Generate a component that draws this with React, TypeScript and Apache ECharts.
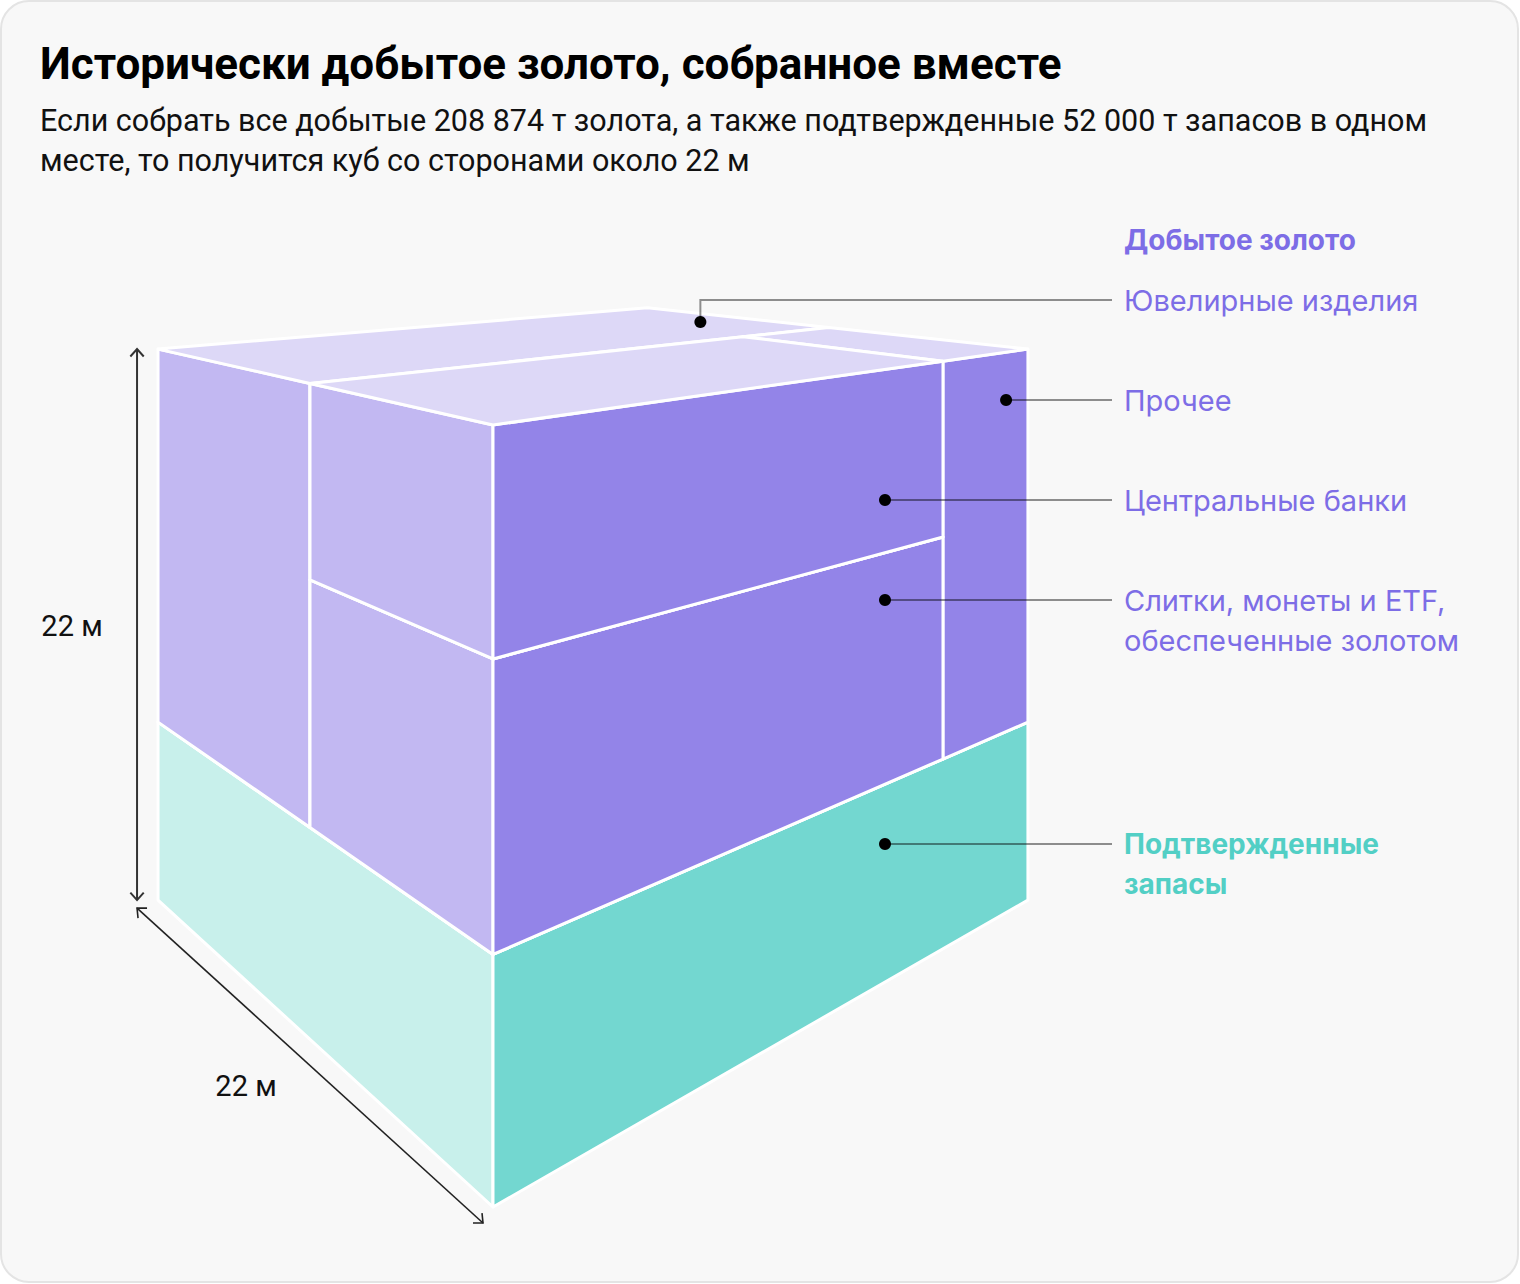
import React, { useEffect, useRef } from "react";
import * as echarts from "echarts";

// ---------- data ----------
const titleText = "Исторически добытое золото, собранное вместе";
const subtitleLines = [
  "Если собрать все добытые 208 874 т золота, а также подтвержденные 52 000 т запасов в одном",
  "месте, то получится куб со сторонами около 22 м",
];
const groupTitle = "Добытое золото";
// segments of mined gold (share of mined-gold volume as drawn in the cube, %)
const segmentNames = ["Ювелирные изделия", "Прочее", "Центральные банки", "Слитки, монеты и ETF,\nобеспеченные золотом"];
const segmentShares = [54.1, 9.7, 16.0, 20.2];
const reservesName = "Подтвержденные\nзапасы";
// share of the cube height: [reserves, mined gold], %
const stackHeights = [32.3, 67.7];
const sideLabel = "22 м";

// ---------- layout / projection ----------
const W = 1520;
const H = 1284;
const P = { fx: 493, topY: 425, botY: 1207, horizonY: 168, vlx: -641, vrx: 2304, k: 0.4192 };

const COLORS = {
  purple: { top: "#DDD8F7", left: "#C2B8F2", right: "#9384E8" },
  teal: { top: "#D8F4F0", left: "#C8F0EB", right: "#73D7D0" },
};
const palettes = [COLORS.teal, COLORS.purple];

function intersect(p1: number[], p2: number[], p3: number[], p4: number[]) {
  const d = (p1[0] - p2[0]) * (p3[1] - p4[1]) - (p1[1] - p2[1]) * (p3[0] - p4[0]);
  const c1 = p1[0] * p2[1] - p1[1] * p2[0];
  const c2 = p3[0] * p4[1] - p3[1] * p4[0];
  return [
    (c1 * (p3[0] - p4[0]) - (p1[0] - p2[0]) * c2) / d,
    (c1 * (p3[1] - p4[1]) - (p1[1] - p2[1]) * c2) / d,
  ];
}

function project(a: number, b: number, z: number) {
  const fy = P.botY - (P.botY - P.topY) * z;
  const sA = (P.k * a) / (1 + P.k * a);
  const sB = (P.k * b) / (1 + P.k * b);
  const pa = [P.fx + (P.vlx - P.fx) * sA, fy + (P.horizonY - fy) * sA];
  const pb = [P.fx + (P.vrx - P.fx) * sB, fy + (P.horizonY - fy) * sB];
  return intersect([P.vrx, P.horizonY], pa, [P.vlx, P.horizonY], pb);
}

function buildBlocks() {
  const zt = stackHeights[0] / 100;
  const [jew, other, cb, bars] = segmentShares;
  const aSplit = 1 - jew / (jew + other + cb + bars);
  const bSplit = (cb + bars) / (cb + bars + other);
  const zSplit = zt + (1 - zt) * (bars / (cb + bars));
  return {
    blocks: [
      [0, 1, 0, 1, 0, zt, 0], // reserves
      [aSplit, 1, 0, 1, zt, 1, 1], // jewelry
      [0, aSplit, bSplit, 1, zt, 1, 1], // other
      [0, aSplit, 0, bSplit, zt, zSplit, 1], // bars
      [0, aSplit, 0, bSplit, zSplit, 1, 1], // central banks
    ],
  };
}

function arrowHead(tip: number[], from: number[], len: number) {
  const dx = from[0] - tip[0];
  const dy = from[1] - tip[1];
  const l = Math.hypot(dx, dy);
  const ux = dx / l, uy = dy / l;
  const ang = (42 * Math.PI) / 180;
  const r = (x: number, y: number, t: number) => [x * Math.cos(t) - y * Math.sin(t), x * Math.sin(t) + y * Math.cos(t)];
  const v1 = r(ux, uy, ang);
  const v2 = r(ux, uy, -ang);
  return [
    [tip[0] + v1[0] * len, tip[1] + v1[1] * len],
    [tip[0], tip[1]],
    [tip[0] + v2[0] * len, tip[1] + v2[1] * len],
  ];
}

export default function App() {
  const ref = useRef<HTMLDivElement>(null);
  useEffect(() => {
    if (!ref.current) return;
    const chart = echarts.init(ref.current, null, { renderer: "svg", width: W, height: H });
    const { blocks } = buildBlocks();

    const labelX = 1124;
    const leaderEnd = labelX - 12;
    const labelFont = "400 29px Inter";
    const boldFont = "700 28px Inter";
    const purpleText = "#7D6DE6";
    const tealText = "#52CFC5";
    const leaderColor = "rgba(0,0,0,0.43)";

    const rowY = [300, 400, 500, 600, 844];
    const jewAnchor = project(0.7, 0.894, 1);
    const rightFaceX = (b: number) => project(0, b, 0)[0];
    const dots = [
      jewAnchor,
      [rightFaceX(0.943), rowY[1]],
      [rightFaceX(0.659), rowY[2]],
      [rightFaceX(0.659), rowY[3]],
      [rightFaceX(0.659), rowY[4]],
    ];

    const graphics: any[] = [];
    graphics.push({
      type: "rect",
      z: -10,
      shape: { x: 1, y: 1, width: W - 3, height: H - 3, r: 28 },
      style: { fill: "#F8F8F8", stroke: "#E4E4E4", lineWidth: 2 },
      silent: true,
    });
    graphics.push({
      type: "text",
      z: 50,
      style: { text: titleText, x: 40, y: 64, font: "700 44px Roboto", fill: "#000", textVerticalAlign: "middle" },
    });
    subtitleLines.forEach((t, i) => {
      graphics.push({
        type: "text",
        z: 50,
        style: { text: t, x: 40, y: 120 + i * 40, font: "400 30.5px Roboto", fill: "#111", textVerticalAlign: "middle" },
      });
    });
    graphics.push({
      type: "text",
      z: 50,
      style: { text: groupTitle, x: labelX, y: 240, font: boldFont, fill: purpleText, textVerticalAlign: "middle" },
    });
    dots.forEach((d, i) => {
      const pts =
        i === 0
          ? [[d[0], d[1]], [d[0], rowY[0]], [leaderEnd, rowY[0]]]
          : [[d[0], d[1]], [leaderEnd, d[1]]];
      graphics.push({
        type: "polyline",
        z: 60,
        shape: { points: pts },
        style: { stroke: leaderColor, lineWidth: 2, fill: null },
        silent: true,
      });
      graphics.push({
        type: "circle",
        z: 61,
        shape: { cx: d[0], cy: d[1], r: 6 },
        style: { fill: "#000" },
        silent: true,
      });
    });
    segmentNames.forEach((name, i) => {
      name.split("\n").forEach((ln, j) => {
        graphics.push({
          type: "text",
          z: 50,
          style: { text: ln, x: labelX, y: rowY[i] + j * 40, font: labelFont, fill: purpleText, textVerticalAlign: "middle" },
        });
      });
    });
    reservesName.split("\n").forEach((ln, j) => {
      graphics.push({
        type: "text",
        z: 50,
        style: { text: ln, x: labelX, y: rowY[4] + j * 40, font: boldFont, fill: tealText, textVerticalAlign: "middle" },
      });
    });

    // dimension arrows
    const lt = project(1, 0, 1);
    const lb = project(1, 0, 0);
    const fb = project(0, 0, 0);
    const vx = lt[0] - 21;
    const vTop = [vx, lt[1]];
    const vBot = [vx, lb[1]];
    graphics.push({
      type: "line",
      z: 40,
      shape: { x1: vTop[0], y1: vTop[1], x2: vBot[0], y2: vBot[1] },
      style: { stroke: "#333", lineWidth: 2 },
    });
    [arrowHead(vTop, vBot, 10), arrowHead(vBot, vTop, 10)].forEach((pts) =>
      graphics.push({ type: "polyline", z: 40, shape: { points: pts }, style: { stroke: "#333", lineWidth: 2, fill: null } })
    );
    const dStart = [lb[0] - 21, lb[1] + 8];
    const dEnd = [fb[0] - 10, fb[1] + 16];
    graphics.push({
      type: "line",
      z: 40,
      shape: { x1: dStart[0], y1: dStart[1], x2: dEnd[0], y2: dEnd[1] },
      style: { stroke: "#222", lineWidth: 1.6 },
    });
    [arrowHead(dStart, dEnd, 10), arrowHead(dEnd, dStart, 10)].forEach((pts) =>
      graphics.push({ type: "polyline", z: 40, shape: { points: pts }, style: { stroke: "#222", lineWidth: 1.6, fill: null } })
    );
    graphics.push({
      type: "text",
      z: 50,
      style: { text: sideLabel, x: 72, y: 626, font: "400 29px Roboto", fill: "#111", textAlign: "center", textVerticalAlign: "middle" },
    });
    graphics.push({
      type: "text",
      z: 50,
      style: { text: sideLabel, x: 246, y: 1086, font: "400 29px Roboto", fill: "#111", textAlign: "center", textVerticalAlign: "middle" },
    });

    chart.setOption({
      animation: false,
      series: [
        {
          type: "custom",
          coordinateSystem: "none",
          silent: true,
          data: blocks,
          renderItem: (params: any, api: any) => {
            const a0 = api.value(0), a1 = api.value(1), b0 = api.value(2), b1 = api.value(3);
            const z0 = api.value(4), z1 = api.value(5), ci = api.value(6);
            const pal = palettes[ci];
            const poly = (pts: number[][], fill: string) => ({
              type: "polygon",
              shape: { points: pts.map((p) => project(p[0], p[1], p[2])) },
              style: { fill, stroke: "#fff", lineWidth: 3, lineJoin: "round" },
            });
            return {
              type: "group",
              children: [
                poly([[a0, b0, z0], [a1, b0, z0], [a1, b0, z1], [a0, b0, z1]], pal.left),
                poly([[a0, b0, z0], [a0, b1, z0], [a0, b1, z1], [a0, b0, z1]], pal.right),
                poly([[a0, b0, z1], [a1, b0, z1], [a1, b1, z1], [a0, b1, z1]], pal.top),
              ],
            };
          },
        },
      ],
      graphic: graphics,
    });
    return () => chart.dispose();
  }, []);
  return (
    <div
      ref={ref}
      style={{ position: "fixed", left: 0, top: 0, width: W, height: H, background: "#fff" }}
    />
  );
}
